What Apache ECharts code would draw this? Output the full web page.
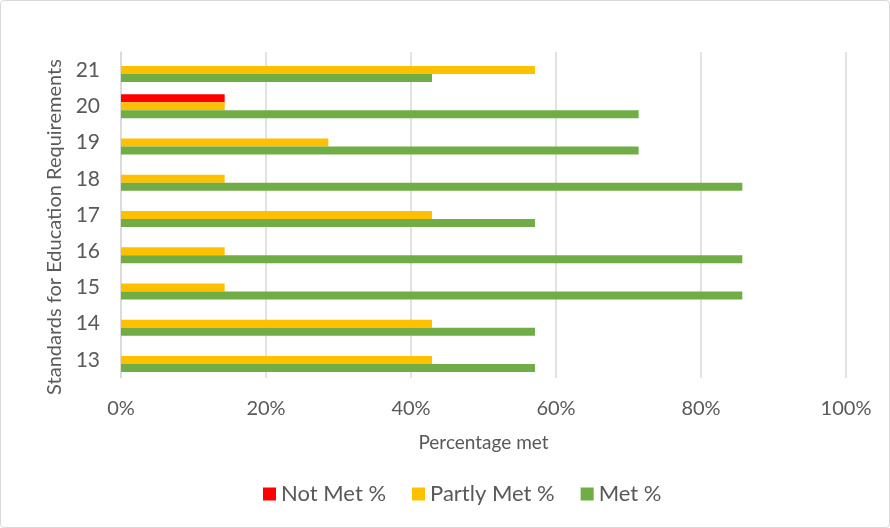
<!DOCTYPE html>
<html>
<head>
<meta charset="utf-8">
<script src="https://cdn.jsdelivr.net/npm/echarts@6/dist/echarts.min.js"></script>
<style>
  html, body { margin: 0; padding: 0; background: #fff; }
  #chart { width: 888px; height: 526px; border: 1px solid #d9d9d9; border-radius: 4px; }
</style>
</head>
<body>
<div id="chart"></div>
<script>
(function () {
    // standards, bottom to top
    const standards = ['13', '14', '15', '16', '17', '18', '19', '20', '21'];
    const notMet = [0, 0, 0, 0, 0, 0, 0, 14.3, 0];
    const partlyMet = [42.9, 42.9, 14.3, 14.3, 42.9, 14.3, 28.6, 14.3, 57.1];
    const met = [57.1, 57.1, 85.7, 85.7, 57.1, 85.7, 71.4, 71.4, 42.9];
    const xTicks = [0, 20, 40, 60, 80, 100];

    const font = 'Lato, "Open Sans", sans-serif';
    const grey = '#595959';

    function bar(name, data, color) {
        return {
            name: name,
            type: 'bar',
            data: data,
            barWidth: 8,
            barGap: '0%',
            itemStyle: { color: color }
        };
    }

    let option = {
        animation: false,
        textStyle: { fontFamily: font },
        grid: { left: 120, right: 43, top: 51, bottom: 149 },
        legend: {
            bottom: 17,
            left: 257,
            itemWidth: 13,
            itemHeight: 13,
            itemGap: 26,
            icon: 'rect',
            textStyle: { fontSize: 22, color: grey, fontFamily: font },
            data: ['Not Met %', 'Partly Met %', 'Met %']
        },
        xAxis: {
            type: 'value',
            min: xTicks[0],
            max: xTicks[xTicks.length - 1],
            interval: 20,
            name: 'Percentage met',
            nameLocation: 'middle',
            nameGap: 55,
            nameTextStyle: { fontSize: 19, color: grey, fontFamily: font },
            axisLine: { show: false },
            axisTick: { show: false },
            axisLabel: { formatter: '{value}%', fontSize: 20, color: grey, margin: 21, fontFamily: font },
            splitLine: { lineStyle: { color: '#d9d9d9', width: 1.5 } }
        },
        yAxis: {
            type: 'category',
            data: standards,
            name: 'Standards for Education Requirements',
            nameLocation: 'middle',
            nameGap: 56,
            nameTextStyle: { fontSize: 20, color: grey, fontFamily: font, padding: [0, 24, 0, 0] },
            axisLine: { lineStyle: { color: '#d9d9d9', width: 1.5 } },
            axisTick: { show: false },
            axisLabel: { fontSize: 21, color: grey, margin: 21, fontFamily: font }
        },
        series: [
            bar('Not Met %', notMet, '#ff0000'),
            bar('Partly Met %', partlyMet, '#ffc000'),
            bar('Met %', met, '#70ad47')
        ]
    };

    let myChart = echarts.init(document.getElementById('chart'));
    myChart && myChart.setOption(option);
}());
</script>
</body>
</html>
